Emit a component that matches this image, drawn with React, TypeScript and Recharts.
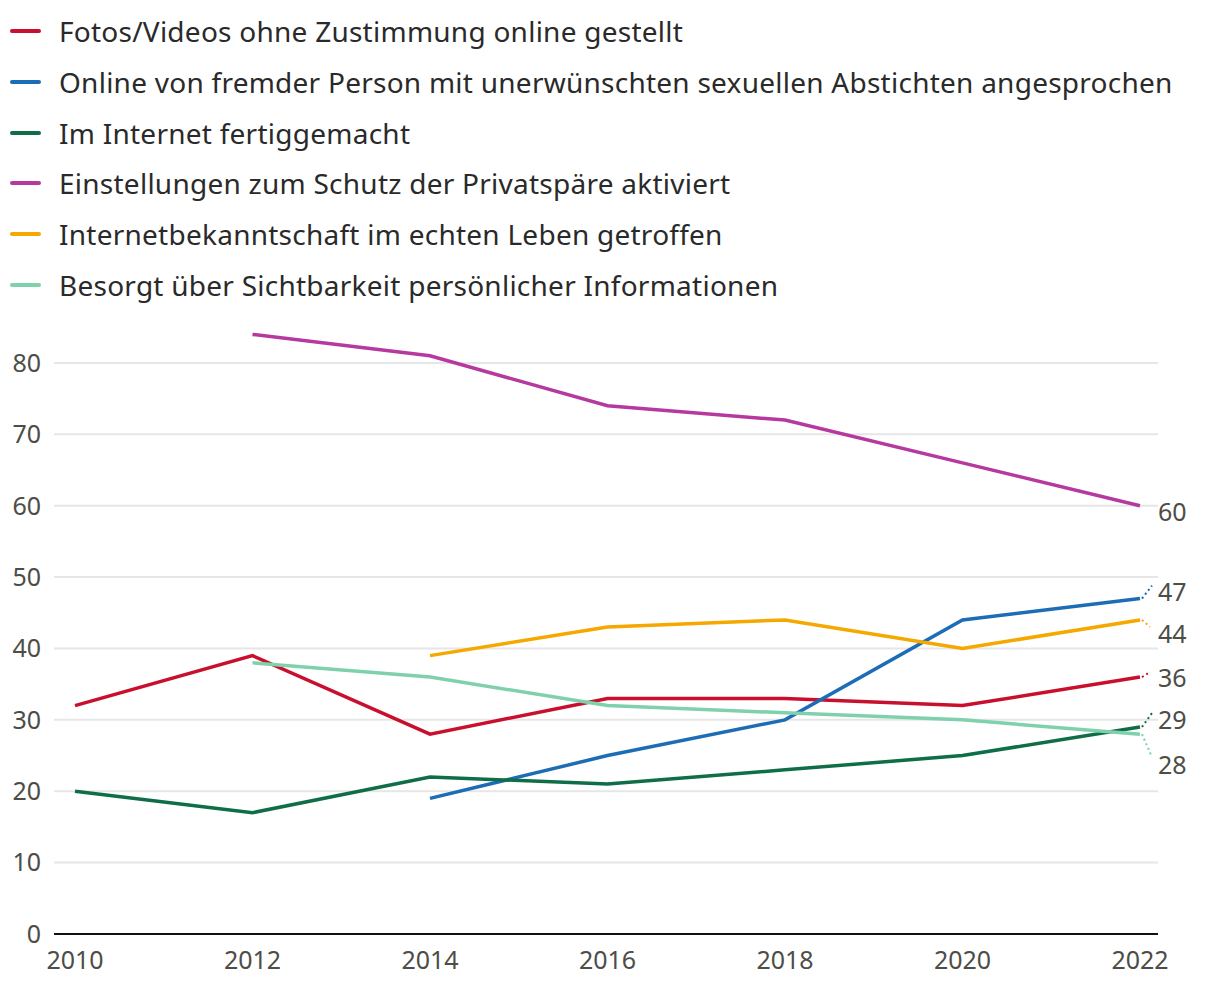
import { CartesianGrid, LabelList, Line, LineChart, XAxis, YAxis } from "recharts";

const YEARS = [2010, 2012, 2014, 2016, 2018, 2020, 2022];
const Y_TICKS = [0, 10, 20, 30, 40, 50, 60, 70, 80];

const FOTOS = [32, 39, 28, 33, 33, 32, 36];
const ONLINE = [null, null, 19, 25, 30, 44, 47];
const FERTIG = [20, 17, 22, 21, 23, 25, 29];
const PRIVAT = [null, 84, 81, 74, 72, 66, 60];
const TREFFEN = [null, null, 39, 43, 44, 40, 44];
const BESORGT = [null, 38, 36, 32, 31, 30, 28];

const SERIES = [
  { key: "fotos", name: "Fotos/Videos ohne Zustimmung online gestellt", values: FOTOS, color: "#c8102e" },
  { key: "online", name: "Online von fremder Person mit unerwünschten sexuellen Abstichten angesprochen", values: ONLINE, color: "#1c6db5" },
  { key: "fertig", name: "Im Internet fertiggemacht", values: FERTIG, color: "#0f6e47" },
  { key: "privat", name: "Einstellungen zum Schutz der Privatspäre aktiviert", values: PRIVAT, color: "#b5399f" },
  { key: "treffen", name: "Internetbekanntschaft im echten Leben getroffen", values: TREFFEN, color: "#f5a800" },
  { key: "besorgt", name: "Besorgt über Sichtbarkeit persönlicher Informationen", values: BESORGT, color: "#7fd1ab" },
];

// Endlabels: Versatz des Textes und der gepunkteten Führungslinie (px)
const END_LABEL: Record<string, { dy: number; lead: [number, number] | null }> = {
  fotos: { dy: 1, lead: [10, -5] },
  online: { dy: -6, lead: [12, -13] },
  fertig: { dy: -7, lead: [12, -14] },
  privat: { dy: 7, lead: null },
  treffen: { dy: 14, lead: [10, 7] },
  besorgt: { dy: 31, lead: [12, 23] },
};

const data = YEARS.map((year, i) => {
  const row: Record<string, number | null> = { year };
  SERIES.forEach((s) => {
    row[s.key] = s.values[i];
  });
  return row;
});

const FONT = "'Noto Sans', sans-serif";
const TICK = { fill: "#4d4d47", fontSize: 25, fontFamily: FONT };

function endLabel(key: string, color: string) {
  return (props: any) => {
    const { x, y, value, index } = props;
    if (index !== YEARS.length - 1 || value == null) return null;
    const cfg = END_LABEL[key];
    return (
      <g>
        {cfg.lead && (
          <line
            x1={x + 2}
            y1={y}
            x2={x + cfg.lead[0]}
            y2={y + cfg.lead[1]}
            stroke={color}
            strokeWidth={2}
            strokeDasharray="2 3"
          />
        )}
        <text x={1158} y={y + cfg.dy} dy="0.35em" fill="#4d4d47" fontSize={25} fontFamily={FONT}>
          {value}
        </text>
      </g>
    );
  };
}

export default function App() {
  return (
    <div style={{ position: "relative", width: 1220, height: 990, fontFamily: FONT }}>
      <style>{`body{margin:0}`}</style>
      <LineChart width={1220} height={990} data={data} margin={{ top: 291.6, right: 62, bottom: 16, left: 0 }}>
        <CartesianGrid vertical={false} horizontalValues={Y_TICKS} stroke="#e6e6e6" strokeWidth={2} />
        <XAxis
          dataKey="year"
          type="number"
          domain={[2010, 2022]}
          ticks={YEARS}
          padding={{ left: 21, right: 18 }}
          height={40}
          tickLine={false}
          tickSize={0}
          tickMargin={17}
          axisLine={{ stroke: "#111", strokeWidth: 2 }}
          tick={TICK}
        />
        <YAxis
          domain={[0, 90]}
          ticks={Y_TICKS}
          width={54}
          axisLine={false}
          tickLine={false}
          tickSize={0}
          tickMargin={13}
          tick={TICK}
        />
        {SERIES.map((s) => (
          <Line
            key={s.key}
            dataKey={s.key}
            name={s.name}
            type="linear"
            stroke={s.color}
            strokeWidth={3.5}
            dot={false}
            activeDot={false}
            isAnimationActive={false}
          >
            <LabelList dataKey={s.key} content={endLabel(s.key, s.color)} />
          </Line>
        ))}
      </LineChart>
      <div style={{ position: "absolute", left: 0, top: 0 }}>
        {SERIES.map((s, i) => (
          <div
            key={s.key}
            style={{ position: "absolute", left: 10, top: 31 + i * 50.8, display: "flex", alignItems: "center", whiteSpace: "nowrap", transform: "translateY(-50%)" }}
          >
            <span style={{ display: "inline-block", width: 31, height: 4, borderRadius: 2, background: s.color }} />
            <span style={{ marginLeft: 18, fontSize: 28, color: "#2a2a2a", lineHeight: "36px", letterSpacing: 0.25 }}>{s.name}</span>
          </div>
        ))}
      </div>
    </div>
  );
}
